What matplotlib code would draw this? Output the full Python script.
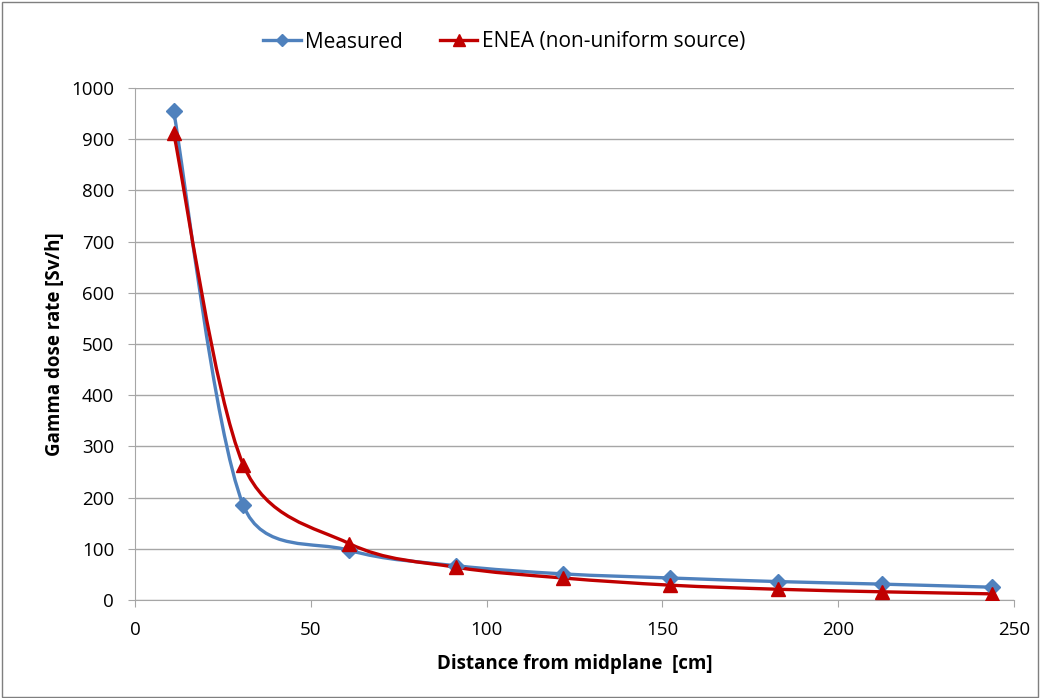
import matplotlib.pyplot as plt
import numpy as np
from matplotlib.path import Path
from matplotlib.patches import PathPatch, Rectangle

# data
distance = [11, 30.8, 61, 91.3, 121.7, 152.2, 182.8, 212.5, 243.7]
measured = [955, 185, 97, 67, 51, 43, 36, 31, 25]
enea = [912, 264, 110, 64, 43, 29, 21, 16, 12]

blue = '#4F81BD'
red = '#C00000'


def smooth_path(ax, x, y, k=0.45):
    # Excel-like smoothed line: cubic bezier, catmull-rom handles,
    # handle length limited relative to the segment (in screen space)
    pts = ax.transData.transform(np.column_stack([x, y]))
    n = len(pts)
    verts = [pts[0]]
    codes = [Path.MOVETO]
    for i in range(n - 1):
        p0 = pts[max(i - 1, 0)]
        p1 = pts[i]
        p2 = pts[i + 1]
        p3 = pts[min(i + 2, n - 1)]
        seg = np.hypot(*(p2 - p1))
        h1 = (p2 - p0) / 6
        h2 = (p3 - p1) / 6
        for h in (h1, h2):
            ln = np.hypot(*h)
            if ln > k * seg:
                h *= k * seg / ln
        verts += [p1 + h1, p2 - h2, p2]
        codes += [Path.CURVE4] * 3
    verts = ax.transData.inverted().transform(np.array(verts))
    return Path(verts, codes)


plt.rcParams['font.family'] = 'Open Sans'

fig = plt.figure(figsize=(10.4, 6.98), dpi=100)
ax = fig.add_axes([135 / 1040, 1 - 600 / 698, (1014 - 135) / 1040, (600 - 88) / 698])
ax.set_xlim(0, 250)
ax.set_ylim(0, 1000)

for ys, col, mk, ms, lab in [(measured, blue, 'D', 8.5, 'Measured'),
                             (enea, red, '^', 10.5, 'ENEA (non-uniform source)')]:
    ax.add_patch(PathPatch(smooth_path(ax, distance, ys), fill=False, edgecolor=col,
                           lw=2.4, capstyle='round', zorder=3))
    ax.plot(distance, ys, ls='none', marker=mk, ms=ms, color=col, zorder=4)
    ax.plot([], [], color=col, lw=2.4, marker=mk, ms=ms - 2, label=lab)

ax.set_xticks(range(0, 251, 50))
ax.set_yticks(range(0, 1001, 100))
ax.grid(axis='y', color='#A6A6A6', lw=1)
ax.set_axisbelow(True)
for s in ['top', 'right']:
    ax.spines[s].set_visible(False)
for s in ['left', 'bottom']:
    ax.spines[s].set_color('#A6A6A6')
ax.tick_params(axis='both', colors='#A6A6A6', labelcolor='black', labelsize=13.5, length=5)
ax.tick_params(axis='y', pad=10)
ax.tick_params(axis='x', pad=10)

ax.set_xlabel('Distance from midplane  [cm]', fontsize=13.5, fontweight='bold', va='center')
ax.set_ylabel('Gamma dose rate [Sv/h]', fontsize=13.5, fontweight='bold', va='center')
ax.xaxis.set_label_coords(0.5, -(664 - 600) / 512)
ax.yaxis.set_label_coords(-(135 - 55) / 879, 0.5)

fig.legend(loc='center', bbox_to_anchor=(504 / 1040, 1 - 42 / 698), ncol=2, frameon=False,
           fontsize=15, handlelength=1.8, columnspacing=1.8, handletextpad=0.2)

# outer chart border
fig.patches.append(Rectangle((0.002, 0.002), 0.996, 0.995, transform=fig.transFigure,
                             fill=False, edgecolor='#7F7F7F', lw=1))

fig.savefig('out.png', dpi=100)
